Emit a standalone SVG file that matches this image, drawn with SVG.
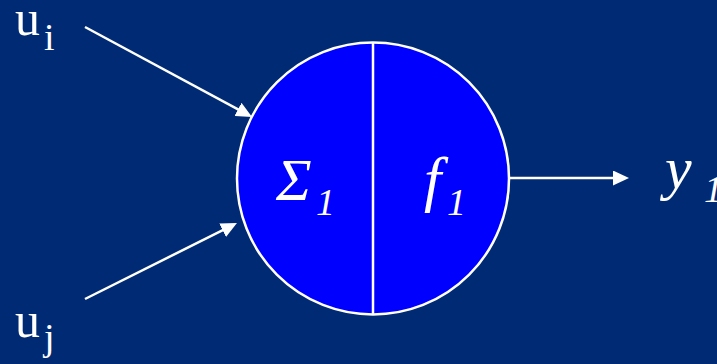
<svg xmlns="http://www.w3.org/2000/svg" width="717" height="364" viewBox="0 0 717 364">
  <style>
    .conn { stroke: #ffffff; stroke-width: 2.5; fill: none; marker-end: url(#arrow); }
    .lbl { font-family: "Liberation Serif", "Times New Roman", serif; fill: #ffffff; }
    .it { font-style: italic; }
  </style>
  <defs>
    <marker id="arrow" markerUnits="userSpaceOnUse" markerWidth="16" markerHeight="15" refX="8" refY="7.5" orient="auto">
      <path d="M0,0 L16,7.5 L0,15 z" fill="#ffffff"/>
    </marker>
  </defs>
  <rect width="717" height="364" fill="#002B74"/>
  <g id="connectors">
    <line class="conn" x1="85" y1="27" x2="245" y2="113.2"/>
    <line class="conn" x1="85" y1="299" x2="229.8" y2="226.6"/>
    <line class="conn" x1="509" y1="178" x2="621" y2="178"/>
  </g>
  <g id="neuron">
    <circle cx="373" cy="178.5" r="136" fill="#0000FF" stroke="#ffffff" stroke-width="2.5"/>
    <line x1="373" y1="42.5" x2="373" y2="314.5" stroke="#ffffff" stroke-width="2.5"/>
    <text class="lbl it" x="276" y="200" font-size="60">Σ</text>
    <text class="lbl it" x="316" y="215" font-size="38">1</text>
    <text class="lbl it" x="424" y="200" font-size="62">f</text>
    <text class="lbl it" x="447" y="215" font-size="38">1</text>
  </g>
  <g id="input-i">
    <text class="lbl" x="15" y="35" font-size="50">u</text>
    <text class="lbl" x="44" y="50" font-size="38">i</text>
  </g>
  <g id="input-j">
    <text class="lbl" x="15" y="337" font-size="50">u</text>
    <text class="lbl" x="44" y="350" font-size="38">j</text>
  </g>
  <g id="output">
    <text class="lbl it" x="665" y="188" font-size="60">y</text>
    <text class="lbl it" x="704" y="202" font-size="38">1</text>
  </g>
</svg>
